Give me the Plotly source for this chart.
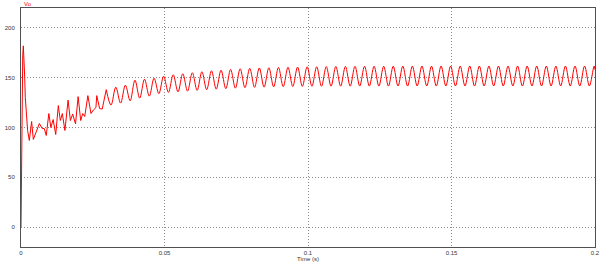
import plotly.graph_objects as go

# ---- data (time in s, Vo in V) ----
# start-up transient
early_t = [0.0, 0.0002, 0.0004, 0.0006, 0.0008, 0.0010, 0.0013, 0.0015, 0.0018, 0.0023,
           0.0029, 0.0037, 0.0043, 0.0052, 0.0064, 0.0074, 0.0081, 0.0088, 0.0097, 0.0104,
           0.0112, 0.0121, 0.0130, 0.0137, 0.0144, 0.0153, 0.0164, 0.0172, 0.0180, 0.0190,
           0.0199, 0.0208, 0.0215, 0.0222, 0.0233, 0.0244, 0.0252, 0.0261, 0.0264, 0.0274,
           0.0283, 0.0297]
early_v = [0, 60, 150, 172, 182, 172, 150, 130, 113, 97,
           87, 106, 88, 95, 104, 99, 99, 92, 114, 100,
           108, 93, 122, 107, 114, 97, 127.5, 107, 113.5, 103.6,
           131, 107, 114, 111, 132, 114, 117.5, 120, 132, 119,
           118.5, 138]

# 300 Hz ripple: troughs and peaks of each cycle
trough_t = [0.03137, 0.03470, 0.03803, 0.04137, 0.04470, 0.04803, 0.05137, 0.05470, 0.05803, 0.06137,
            0.06470, 0.06803, 0.07137, 0.07470, 0.07803, 0.08137, 0.08470, 0.08803, 0.09137, 0.09470,
            0.09803, 0.10137, 0.10470, 0.10803, 0.11137, 0.11470, 0.11803, 0.12137, 0.12470, 0.12803,
            0.13137, 0.13470, 0.13803, 0.14137, 0.14470, 0.14803, 0.15137, 0.15470, 0.15803, 0.16137,
            0.16470, 0.16803, 0.17137, 0.17470, 0.17803, 0.18137, 0.18470, 0.18803, 0.19137, 0.19470,
            0.19803]
trough_v = [122.5, 124.5, 126.8, 129.5, 131.5, 134.0, 135.2, 135.8, 136.5, 137.3,
            138.0, 138.5, 139.0, 139.5, 140.0, 140.3, 140.5, 140.8, 141.0, 141.2,
            141.3, 141.4, 141.4, 141.5, 141.5, 141.5, 141.6, 141.6, 141.6, 141.6,
            141.7, 141.6, 141.7, 141.7, 141.6, 141.7, 141.7, 141.7, 141.6, 141.7,
            141.7, 141.7, 141.7, 141.6, 141.7, 141.7, 141.7, 141.7, 141.7, 141.7,
            141.7]
peak_t = [0.03303, 0.03637, 0.03970, 0.04303, 0.04637, 0.04970, 0.05303, 0.05637, 0.05970, 0.06303,
          0.06637, 0.06970, 0.07303, 0.07637, 0.07970, 0.08303, 0.08637, 0.08970, 0.09303, 0.09637,
          0.09970, 0.10303, 0.10637, 0.10970, 0.11303, 0.11637, 0.11970, 0.12303, 0.12637, 0.12970,
          0.13303, 0.13637, 0.13970, 0.14303, 0.14637, 0.14970, 0.15303, 0.15637, 0.15970, 0.16303,
          0.16637, 0.16970, 0.17303, 0.17637, 0.17970, 0.18303, 0.18637, 0.18970, 0.19303, 0.19637,
          0.19970]
peak_v = [140.5, 142.5, 147.5, 148.5, 149.5, 151.5, 153.0, 154.0, 155.0, 156.0,
          157.0, 157.5, 158.3, 159.0, 159.4, 159.8, 160.0, 160.3, 160.5, 160.7,
          161.0, 161.0, 161.2, 161.3, 161.3, 161.4, 161.5, 161.5, 161.5, 161.6,
          161.6, 161.6, 161.7, 161.6, 161.7, 161.7, 161.6, 161.7, 161.7, 161.7,
          161.7, 161.6, 161.7, 161.7, 161.7, 161.7, 161.6, 161.7, 161.7, 161.7,
          161.7]
end_t = [0.2]
end_v = [158.0]

x_ticks = [0, 0.05, 0.1, 0.15, 0.2]
x_ticktext = ["0", "0.05", "0.1", "0.15", "0.2"]
y_ticks = [0, 50, 100, 150, 200]
y_ticktext = ["0", "50", "100", "150", "200"]

# interleave trough / peak points for the ripple trace
ripple_t = [early_t[-1]]
ripple_v = [early_v[-1]]
for tt, tv, pt, pv in zip(trough_t, trough_v, peak_t, peak_v):
    ripple_t += [tt, pt]
    ripple_v += [tv, pv]
ripple_t += end_t
ripple_v += end_v

RED = "#ff0000"
FONT = "Liberation Sans"

fig = go.Figure()
fig.add_trace(go.Scatter(x=early_t, y=early_v, mode="lines",
                         line=dict(color=RED, width=1), showlegend=False, hoverinfo="skip"))
fig.add_trace(go.Scatter(x=ripple_t, y=ripple_v, mode="lines",
                         line=dict(color=RED, width=1, shape="spline", smoothing=1),
                         showlegend=False, hoverinfo="skip"))

axis_common = dict(showline=True, mirror=True, linecolor="#505050", linewidth=1,
                   showgrid=True, gridcolor="#8c8c8c", gridwidth=1, griddash="1px,2px",
                   zeroline=False, ticks="",
                   tickfont=dict(family=FONT, size=6, color="#333333"))

fig.update_xaxes(range=[0, 0.2], tickvals=x_ticks, ticktext=x_ticktext,
                 title=dict(text="Time (s)", font=dict(family=FONT, size=6, color="#333333"),
                            standoff=1),
                 **axis_common)
fig.update_yaxes(range=[-20, 220], tickvals=y_ticks, ticktext=y_ticktext,
                 ticklabelstandoff=4, **axis_common)

fig.add_annotation(text="Vo", xref="paper", yref="paper", x=0, y=1,
                   xanchor="left", yanchor="bottom", showarrow=False,
                   font=dict(family=FONT, size=6, color=RED), xshift=1, yshift=-1)

fig.update_layout(width=605, height=266, margin=dict(l=20, r=5, t=8, b=17),
                  paper_bgcolor="white", plot_bgcolor="white",
                  font=dict(family=FONT, size=6))

fig.write_html("out.html")
